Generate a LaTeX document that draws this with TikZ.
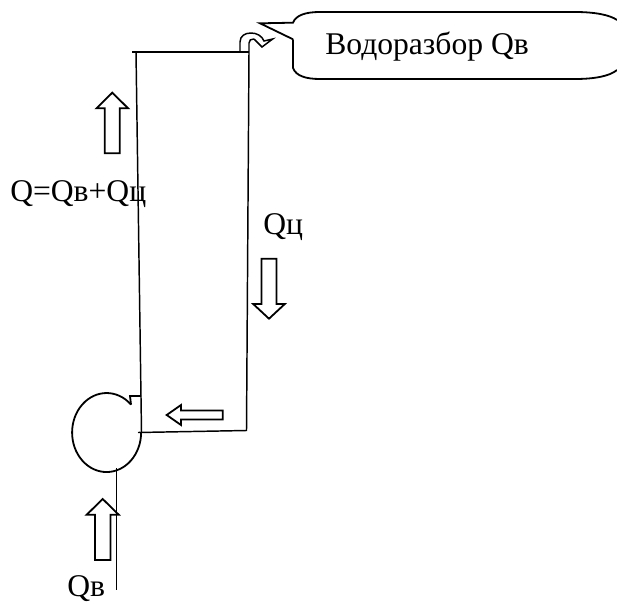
\documentclass[tikz,border=0pt]{standalone}
\usepackage{fontspec}
\setmainfont{Liberation Serif}
\usetikzlibrary{calc}
\providecommand{\FlowArrow}[6]{%
  \edef\lrotate{#2}%
  \edef\llength{#3}%
  \edef\lhead{#4}%
  \edef\lwide{#5}%
  \edef\lshaft{#6}%
  \begin{scope}[shift={(#1)}, rotate=\lrotate]
	\draw[pipe, fill=white] (0,0) -- (-\lhead,\lwide) -- (-\lhead,\lshaft) -- (-\llength,\lshaft) -- (-\llength,-\lshaft) -- (-\lhead,-\lshaft) -- (-\lhead,-\lwide) -- cycle;
  \end{scope}%
}
\tikzset{
  pipe/.style={draw=black, line width=1.35pt, line join=miter},
  thin pipe/.style={draw=black, line width=1.1pt},
  label/.style={inner sep=0pt, anchor=base west, font=\fontsize{23.7}{28}\selectfont},
}

\begin{document}
\begin{tikzpicture}[x=0.75pt, y=-0.75pt]
	\useasboundingbox (0,0) rectangle (617,602);

	\coordinate (TL) at (132,52);
	\coordinate (TLb) at (136,52);
	\coordinate (TR) at (249,52);
	\coordinate (BL) at (141.5,432);
	\coordinate (BR) at (246.5,430.5);
	\coordinate (BS) at (138,432.5);
	\coordinate (PT) at (131,404.6);
	\coordinate (ST) at (116.7,468);
	\coordinate (SB) at (116.7,590);

	% pipes
	\draw[thin pipe] (TL) -- (TR);
	\draw[thin pipe] (TLb) -- (BL);
	\draw[thin pipe] (TR) -- (BR) -- (BS);

	% pump
	\draw[pipe] (PT) arc[start angle=-45, end angle=-360, x radius=34.5, y radius=39.5];
	\draw[pipe] (PT) -- (130,396) -- (141,396);

	% tap
	\draw[thin pipe] (240,52) -- (240,42) .. controls (240,36) and (245,33) .. (251,33) .. controls (257,33) and (262,36) .. (264,41) -- (272.7,39) -- (262,47) -- (254,39);
	\draw[thin pipe] (249,52) -- (249,43) .. controls (249,40) and (251,39) .. (254,39);

	% flow arrows
	\FlowArrow{112.3,92.7}{90}{60.6}{15.6}{15.8}{7.5}
	\FlowArrow{269,318.7}{-90}{60}{14.7}{15.8}{7.5}
	\FlowArrow{166.7,415}{180}{56}{14.3}{10}{4.5}
	\FlowArrow{102.7,499}{90}{61}{15.7}{16}{7.7}

	\draw[thin pipe] (ST) -- (SB);

	% callout
	\draw[pipe] (293,39.3) -- (260,23.3) -- (293,22.7) .. controls (296,15) and (306,12) .. (320,12) -- (575,12) .. controls (595,12) and (610,15) .. (617,20);
	\draw[pipe] (293,39.3) -- (293,68) .. controls (296,76) and (306,79) .. (320,79) -- (575,79) .. controls (595,79) and (610,76) .. (617,70);

	\node[label] (take) at (325,55) {Водоразбор Qв};
	\node[label] (sum) at (10,202) {Q=Qв+Qц};
	\node[label] (circ) at (263,235) {Qц};
	\node[label] (in) at (67,596) {Qв};
\end{tikzpicture}
\end{document}
